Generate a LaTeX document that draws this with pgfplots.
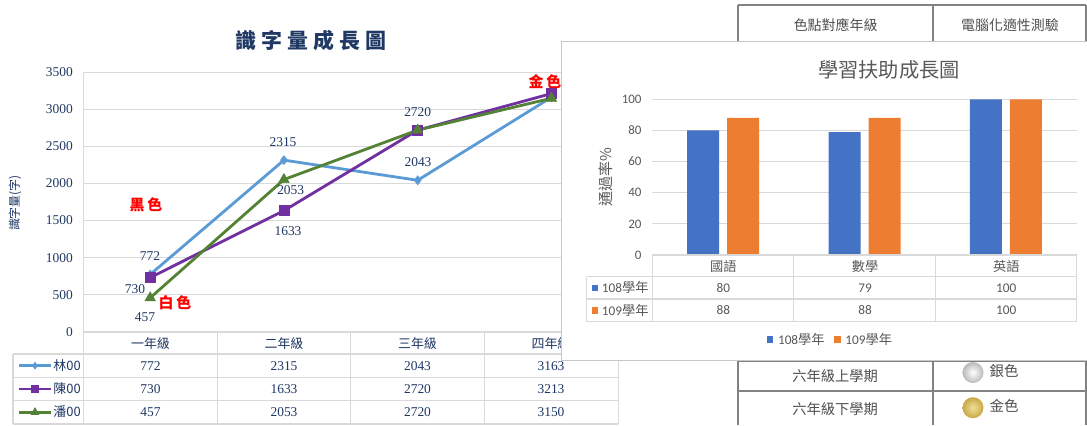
\documentclass[border=0pt]{standalone}
\usepackage{pgfplots}
\pgfplotsset{compat=1.18}
\usepackage{fontspec}
\setmainfont{Liberation Serif}
\newfontfamily\cjk{Noto Sans CJK TC}
\newfontfamily\calib{Carlito}
\definecolor{navy}{RGB}{31,56,100}
\definecolor{lblue}{RGB}{91,155,213}
\definecolor{purp}{RGB}{112,48,160}
\definecolor{grn}{RGB}{84,130,53}
\definecolor{gridc}{RGB}{217,217,217}
\definecolor{xblue}{RGB}{68,114,196}
\definecolor{xorange}{RGB}{237,125,49}
\definecolor{tgray}{RGB}{89,89,89}
\definecolor{dgray}{RGB}{80,80,80}
\definecolor{boxc}{RGB}{200,200,200}
\definecolor{tabc}{RGB}{130,130,130}
\definecolor{goldin}{RGB}{240,222,150}
\definecolor{goldout}{RGB}{200,168,70}
\newcommand\fs[1]{\fontsize{#1}{#1}\selectfont}
\begin{document}
\begin{tikzpicture}[x=1bp,y=1bp]
\path[fill=white,use as bounding box] (0,0) rectangle (1087,-425);

% ---------- background document table ----------
\begin{scope}[draw=tabc, line width=1.3bp]
\draw (738,-5) -- (1086,-5);
\draw (738,-361) -- (1086,-361);
\draw (738,-391) -- (1086,-391);
\foreach \x in {738,933,1086} \draw (\x,-5) -- (\x,-425);
\end{scope}
\node[dgray] at (835.6,-25) {\cjk\fs{14}色點對應年級};
\node[dgray] at (1010,-25) {\cjk\fs{14}電腦化適性測驗};
\node[dgray] at (835,-376) {\cjk\fs{14.3}六年級上學期};
\node[dgray] at (835,-409) {\cjk\fs{14.3}六年級下學期};
\shade[inner color=white, outer color=gray!55] (973,-372.5) circle (10.5);
\shade[inner color=goldin, outer color=goldout] (973,-407.7) circle (10.5);
\node[dgray] at (1004,-371) {\cjk\fs{14.5}銀色};
\node[dgray] at (1004,-406) {\cjk\fs{14.5}金色};

% ---------- left chart ----------
\node[navy] at (311,-41) {\cjk\bfseries\fs{21}識\kern5bp字\kern5bp量\kern5bp成\kern5bp長\kern5bp圖};
\node[navy, rotate=90] at (15,-203) {\cjk\fs{12}識字量(字)};

\begin{axis}[
  at={(83.3bp,-331.7bp)}, anchor=south west, scale only axis,
  width=535bp, height=259.4bp,
  xmin=-0.5, xmax=3.5, ymin=0, ymax=3500,
  ytick={0,500,...,3500}, xtick=\empty,
  ymajorgrids, grid style={gridc, line width=0.9bp},
  axis line style={gridc, line width=0.9bp},
  major tick length=0pt,
  yticklabel style={font=\fs{13.5}, text=navy, xshift=-7bp},
  /pgf/number format/assume math mode=true,
  /pgf/number format/1000 sep={},
  clip=false,
  legend style={at={(-0.1224,-0.086)}, anchor=north west, draw=none, fill=none,
    inner sep=0pt, outer sep=0pt, row sep=0pt,
    nodes={inner sep=0pt, anchor=west, text=navy, font=\cjk\fs{13}, minimum height=23.3bp},
    /tikz/every odd column/.append style={column sep=1.2bp}},
  legend image code/.code={\draw[#1, mark repeat=2, mark phase=2, /tikz/every mark/.append style={scale=0.75}] plot coordinates {(0bp,0bp)(15.8bp,0bp)(31.6bp,0bp)};},
]
\addplot[color=lblue, line width=2.8bp, mark=diamond*, mark size=4.5bp, mark options={solid, line width=0.6bp}] coordinates {(0,772)(1,2315)(2,2043)(3,3163)};
\addplot[color=purp, line width=2.8bp, mark=square*, mark size=5bp, mark options={solid, line width=0.6bp}] coordinates {(0,730)(1,1633)(2,2720)(3,3213)};
\addplot[color=grn, line width=2.8bp, mark=triangle*, mark size=6bp, mark options={solid, line width=0.6bp}] coordinates {(0,457)(1,2053)(2,2720)(3,3150)};
\legend{林00,陳00,潘00}
\end{axis}

% data labels
\begin{scope}[every node/.style={text=navy, font=\fs{13.5}, inner sep=0pt}]
\node at (150,-256) {772};
\node at (135,-289) {730};
\node at (145,-316.7) {457};
\node at (283,-142.3) {2315};
\node at (290.7,-190) {2053};
\node at (288,-230.7) {1633};
\node at (417.7,-111.7) {2720};
\node at (418,-161.7) {2043};
\end{scope}
\node[red, inner sep=0pt] at (146,-205) {\cjk\bfseries\fs{15}黑\kern3bp色};
\node[red, inner sep=0pt] at (175,-302.5) {\cjk\bfseries\fs{15}白\kern3bp色};
\node[red, inner sep=0pt] at (545,-81.7) {\cjk\bfseries\fs{15}金\kern3bp色};

% left data table
\begin{scope}[draw=gridc, line width=1.5bp]
\draw (83.3,-332.7) -- (618.3,-332.7);
\foreach \y in {354,377.3,400.7,424} \draw (13,-\y) -- (618.3,-\y);
\draw (13,-354) -- (13,-424);
\foreach \x in {83.3,217.7,350.7,484.3,618.3} \draw (\x,-332.7) -- (\x,-424);
\end{scope}
\begin{scope}[every node/.style={text=navy, inner sep=0pt}]
\node at (150.5,-343.3) {\cjk\fs{13}一年級};
\node at (284,-343.3) {\cjk\fs{13}二年級};
\node at (417.5,-343.3) {\cjk\fs{13}三年級};
\node at (551,-343.3) {\cjk\fs{13}四年級};
\node[font=\fs{13.5}] at (150.5,-366) {772};
\node[font=\fs{13.5}] at (284,-366) {2315};
\node[font=\fs{13.5}] at (417.5,-366) {2043};
\node[font=\fs{13.5}] at (551,-366) {3163};
\node[font=\fs{13.5}] at (150.5,-389.3) {730};
\node[font=\fs{13.5}] at (284,-389.3) {1633};
\node[font=\fs{13.5}] at (417.5,-389.3) {2720};
\node[font=\fs{13.5}] at (551,-389.3) {3213};
\node[font=\fs{13.5}] at (150.5,-412.3) {457};
\node[font=\fs{13.5}] at (284,-412.3) {2053};
\node[font=\fs{13.5}] at (417.5,-412.3) {2720};
\node[font=\fs{13.5}] at (551,-412.3) {3150};
\end{scope}

% ---------- right chart ----------
\draw[boxc, fill=white, line width=1bp] (561.7,-41.5) rectangle (1087.5,-360.7);
\node[tgray] at (889,-70) {\cjk\fs{20.3}學習扶助成長圖};
\node[tgray, rotate=90] at (606,-176.7) {\cjk\fs{15}通過率\%};

\begin{axis}[
  at={(652.3bp,-255bp)}, anchor=south west, scale only axis,
  width=424.4bp, height=155.7bp,
  xmin=-0.5, xmax=2.5, ymin=0, ymax=100,
  ytick={0,20,...,100}, xtick=\empty,
  ymajorgrids, grid style={gridc, line width=0.9bp},
  axis line style={draw=none},
  major tick length=0pt,
  yticklabel style={font=\calib\fs{13}, text=tgray, xshift=-7.3bp},
  /pgf/number format/assume math mode=true,
  legend columns=2,
  legend style={at={(0.2696,-0.5414)}, anchor=west, draw=none, fill=none,
    inner sep=0pt, outer sep=0pt,
    nodes={inner sep=0pt, anchor=west, text=tgray, font=\fs{13.3}},
    /tikz/every odd column/.append style={column sep=4.7bp},
    /tikz/every even column/.append style={column sep=9.4bp}},
]
\addplot[ybar, bar width=32bp, bar shift=-20bp, fill=xblue, draw=none,
  legend image code/.code={\fill[xblue] (0bp,-3.3bp) rectangle (6.6bp,3.3bp);}]
  coordinates {(0,80)(1,79)(2,100)};
\addplot[ybar, bar width=32bp, bar shift=20bp, fill=xorange, draw=none,
  legend image code/.code={\fill[xorange] (0bp,-3.3bp) rectangle (6.6bp,3.3bp);}]
  coordinates {(0,88)(1,88)(2,100)};
\legend{{\calib 108}{\cjk 學年},{\calib 109}{\cjk 學年}}
\end{axis}

% right data table
\begin{scope}[draw=gridc, line width=1.2bp]
\draw (652.3,-255) -- (1076.7,-255);
\foreach \y in {276.7,299,321.7} \draw (586.7,-\y) -- (1076.7,-\y);
\draw (586.7,-276.7) -- (586.7,-321.7);
\foreach \x in {652.3,793.8,935.3,1076.7} \draw (\x,-255) -- (\x,-321.7);
\end{scope}
\begin{scope}[every node/.style={text=tgray, inner sep=0pt}]
\node at (723.3,-266) {\cjk\fs{13.3}國語};
\node at (865,-266) {\cjk\fs{13.3}數學};
\node at (1006.3,-266) {\cjk\fs{13.3}英語};
\node[font=\calib\fs{13.3}] at (723.3,-287.8) {80};
\node[font=\calib\fs{13.3}] at (865,-287.8) {79};
\node[font=\calib\fs{13.3}] at (1006.3,-287.8) {100};
\node[font=\calib\fs{13.3}] at (723.3,-310.3) {88};
\node[font=\calib\fs{13.3}] at (865,-310.3) {88};
\node[font=\calib\fs{13.3}] at (1006.3,-310.3) {100};
\node[anchor=west] at (601.7,-287.8) {\fs{13.3}{\calib 108}{\cjk 學年}};
\node[anchor=west] at (601.7,-310.3) {\fs{13.3}{\calib 109}{\cjk 學年}};
\end{scope}
\fill[xblue] (591.7,-284.5) rectangle (598.3,-291.1);
\fill[xorange] (591.7,-307) rectangle (598.3,-313.6);
\end{tikzpicture}
\end{document}
